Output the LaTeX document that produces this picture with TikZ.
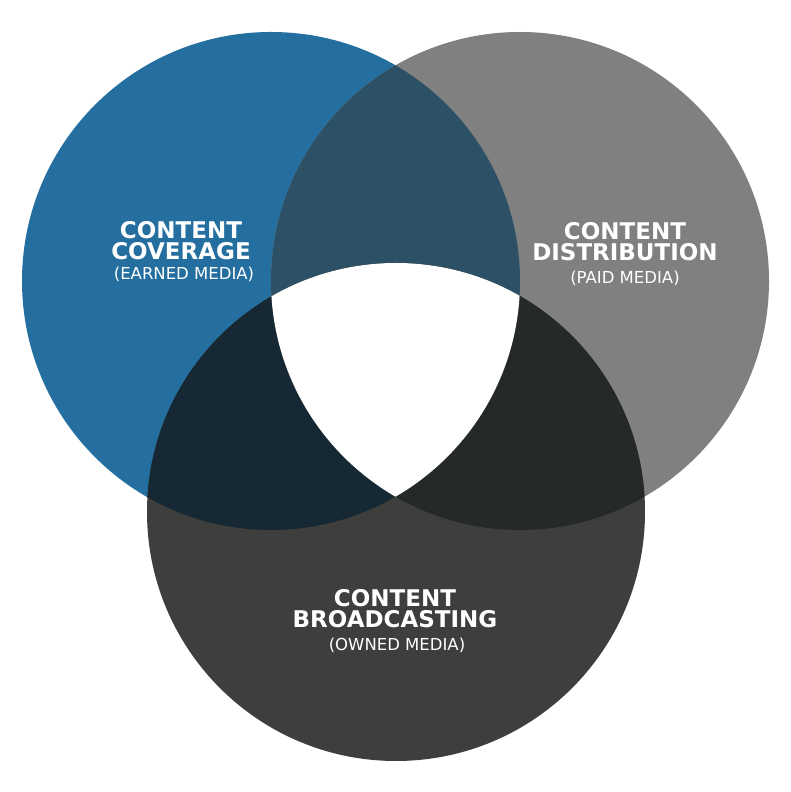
\documentclass[tikz,border=0pt]{standalone}
\usepackage{fontspec}
\setmainfont{DejaVu Sans}
\usetikzlibrary{positioning}

\definecolor{earnedblue}{HTML}{246FA0}
\definecolor{paidgray}{HTML}{808080}
\definecolor{owneddark}{HTML}{3E3E3C}
\definecolor{earnedpaid}{HTML}{2C5167}
\definecolor{paidowned}{HTML}{262A27}
\definecolor{earnedowned}{HTML}{162833}

\begin{document}
\begin{tikzpicture}[x=1pt, y=1pt,
  title/.style={text=white, inner sep=0pt, align=center, font=\bfseries\fontsize{23}{21}\selectfont},
  sub/.style={text=white, inner sep=0pt, font=\fontsize{16.5}{18}\selectfont}]
  \useasboundingbox (0,0) rectangle (791,792);
  \coordinate (earned) at (271,511);
  \coordinate (paid) at (520,511);
  \coordinate (owned) at (396,280);
  % the three circles
  \fill[earnedblue] (earned) circle (249);
  \fill[paidgray] (paid) circle (249);
  \fill[owneddark] (owned) circle (249);
  % pairwise overlaps
  \begin{scope}
    \clip (earned) circle (249);
    \fill[earnedpaid] (paid) circle (249);
    \fill[earnedowned] (owned) circle (249);
  \end{scope}
  \begin{scope}
    \clip (paid) circle (249);
    \fill[paidowned] (owned) circle (249);
  \end{scope}
  % middle
  \begin{scope}
    \clip (earned) circle (249);
    \clip (paid) circle (249);
    \fill[white] (owned) circle (249);
  \end{scope}
  \node[title] (coverage) at (181,551) {CONTENT\\COVERAGE};
  \node[sub] (earnedtext) at (184,517.5) {(EARNED MEDIA)};
  \node[title] (distribution) at (625,550) {CONTENT\\DISTRIBUTION};
  \node[sub] (paidtext) at (625,514) {(PAID MEDIA)};
  \node[title] (broadcasting) at (395,183.5) {CONTENT\\BROADCASTING};
  \node[sub] (ownedtext) at (397,146.5) {(OWNED MEDIA)};
\end{tikzpicture}
\end{document}
